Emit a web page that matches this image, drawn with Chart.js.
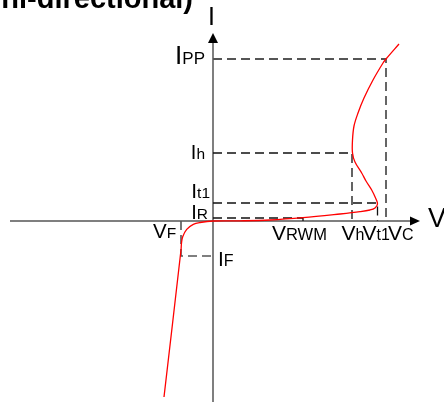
<!DOCTYPE html>
<html>
<head>
<meta charset="utf-8">
<script src="https://cdn.jsdelivr.net/npm/chart.js@4/dist/chart.umd.min.js"></script>
<style>
  html, body { margin: 0; padding: 0; background: #fff; overflow: hidden; }
  canvas { display: block; }
</style>
</head>
<body>
<canvas id="iv" width="444" height="402"></canvas>
<script>
// Visible window of the V-I plane (schematic units)
const vRange = [-21.3, 23.1];
const iRange = [-18.1, 22.1];
const vAxisEnds = [-20.3, 20.7];
const iAxisEnds = [-18.1, 18.8];

// Characteristic voltages
const VF = -3.2, VRWM = 9.0, Vh = 13.9, Vt1 = 16.45, VC = 17.3;
// Characteristic currents
const IF = -3.5, IR = 0.3, Ih = 6.8, It1 = 1.8, IPP = 16.2;

// Snap-back V-I characteristic of a uni-directional TVS diode
const curveV = [-4.9, -3.2, -3.15, -3.03, -2.63, -1.97, -1.3, 0, 2.7, 5.7, 9.0, 12.7, 14.7, 15.7, 16.2, 16.45,
                16.3, 15.87, 15.3, 14.87, 14.2, 13.95, 13.95, 14.1, 14.5, 15.1, 16.0, 17.0, 17.3, 18.6];
const curveI = [-17.6, -2.9, -2.2, -1.57, -0.83, -0.33, -0.15, 0, 0.02, 0.1, 0.33, 0.7, 0.93, 1.1, 1.3, 1.7,
                2.2, 3.1, 4.0, 4.8, 5.9, 6.8, 8.1, 9.5, 10.8, 12.3, 14.1, 15.8, 16.2, 17.7];

const pts = (vs, is) => vs.map((v, k) => ({ x: v, y: is[k] }));

function guide(points, color, width) {
  return {
    data: points, showLine: true, pointRadius: 0, borderColor: color,
    borderWidth: width, borderDash: [9, 5], tension: 0, order: 1, clip: false
  };
}

const FONT = '"Liberation Sans", Arial, sans-serif';

function subLabel(ctx, x, y, main, sub, mainSize, subSize, align) {
  ctx.font = mainSize + 'px ' + FONT;
  const wm = ctx.measureText(main).width;
  ctx.font = subSize + 'px ' + FONT;
  const ws = ctx.measureText(sub).width;
  const left = align === 'right' ? x - wm - ws : x;
  ctx.textAlign = 'left';
  ctx.textBaseline = 'alphabetic';
  ctx.fillStyle = '#000';
  ctx.font = mainSize + 'px ' + FONT;
  ctx.fillText(main, left, y);
  ctx.font = subSize + 'px ' + FONT;
  ctx.fillText(sub, left + wm, y);
}

const axesPlugin = {
  id: 'ivAxes',
  beforeDatasetsDraw(chart) {
    const { ctx } = chart;
    const xs = chart.scales.x, ys = chart.scales.y;
    const x0 = xs.getPixelForValue(0), y0 = ys.getPixelForValue(0);
    const xl = xs.getPixelForValue(vAxisEnds[0]), xr = xs.getPixelForValue(vAxisEnds[1]);
    const yb = ys.getPixelForValue(iAxisEnds[0]), yt = ys.getPixelForValue(iAxisEnds[1]);
    ctx.save();
    ctx.strokeStyle = '#555';
    ctx.lineWidth = 1.5;
    ctx.beginPath();
    ctx.moveTo(xl, y0); ctx.lineTo(xr - 8, y0);
    ctx.moveTo(x0, yb); ctx.lineTo(x0, yt + 8);
    ctx.stroke();
    ctx.fillStyle = '#000';
    ctx.beginPath();
    ctx.moveTo(xr, y0); ctx.lineTo(xr - 10, y0 - 4.5); ctx.lineTo(xr - 10, y0 + 4.5); ctx.closePath();
    ctx.fill();
    ctx.beginPath();
    ctx.moveTo(x0, yt); ctx.lineTo(x0 - 5, yt + 10); ctx.lineTo(x0 + 5, yt + 10); ctx.closePath();
    ctx.fill();
    ctx.restore();
  },
  afterDatasetsDraw(chart) {
    const { ctx } = chart;
    const xs = chart.scales.x, ys = chart.scales.y;
    const px = v => xs.getPixelForValue(v), py = i => ys.getPixelForValue(i);
    const x0 = px(0), y0 = py(0);
    ctx.save();
    // heading
    ctx.fillStyle = '#000';
    ctx.font = 'bold 29px ' + FONT;
    ctx.textAlign = 'right';
    ctx.textBaseline = 'alphabetic';
    ctx.fillText('(Uni-directional)', 193, 8);
    // axis names
    ctx.textAlign = 'left';
    ctx.font = '25px ' + FONT;
    ctx.fillText('I', x0 - 5, py(iAxisEnds[1]) - 8);
    ctx.font = '27px ' + FONT;
    ctx.fillText('V', px(vAxisEnds[1]) + 8, y0 + 6);
    // current levels
    subLabel(ctx, x0 - 8, py(IPP) + 5, 'I', 'PP', 26, 17, 'right');
    subLabel(ctx, x0 - 8, py(Ih) + 5.5, 'I', 'h', 20, 15.5, 'right');
    subLabel(ctx, x0 - 3, py(It1) - 5, 'I', 't1', 21, 15.5, 'right');
    subLabel(ctx, x0 - 5, py(IR) + 1, 'I', 'R', 20, 15.5, 'right');
    subLabel(ctx, x0 + 5, py(IF) + 10, 'I', 'F', 21, 16, 'left');
    // voltage levels
    subLabel(ctx, px(VF) - 28, y0 + 17, 'V', 'F', 20.5, 15.5, 'left');
    subLabel(ctx, px(VRWM) - 31, y0 + 18.5, 'V', 'RWM', 21, 16.5, 'left');
    subLabel(ctx, px(Vh) - 10.5, y0 + 19, 'V', 'h', 21, 16, 'left');
    subLabel(ctx, px(Vt1) - 15, y0 + 19, 'V', 't1', 21, 16, 'left');
    subLabel(ctx, px(VC) + 2, y0 + 19, 'V', 'C', 21, 16, 'left');
    ctx.restore();
  }
};

new Chart(document.getElementById('iv'), {
  type: 'scatter',
  data: {
    datasets: [
      {
        data: pts(curveV, curveI), showLine: true, pointRadius: 0,
        borderColor: '#ff0000', borderWidth: 1.3, tension: 0.35, order: 0, clip: false
      },
      guide([{ x: 0, y: IPP }, { x: VC, y: IPP }, { x: VC, y: 0 }], '#555', 1.8),
      guide([{ x: 0, y: Ih }, { x: Vh, y: Ih }, { x: Vh, y: 0 }], '#111', 1.3),
      guide([{ x: 0, y: It1 }, { x: Vt1, y: It1 }, { x: Vt1, y: 0 }], '#111', 1.3),
      guide([{ x: 0, y: IR }, { x: VRWM, y: IR }, { x: VRWM, y: 0 }], '#111', 1.3),
      guide([{ x: VF, y: 0 }, { x: VF, y: IF }, { x: 0, y: IF }], '#555', 1.6)
    ]
  },
  options: {
    responsive: false,
    animation: false,
    layout: { padding: 0 },
    plugins: { legend: { display: false }, tooltip: { enabled: false }, title: { display: false } },
    scales: {
      x: { type: 'linear', min: vRange[0], max: vRange[1], display: false },
      y: { type: 'linear', min: iRange[0], max: iRange[1], display: false }
    }
  },
  plugins: [axesPlugin]
});
</script>
</body>
</html>
